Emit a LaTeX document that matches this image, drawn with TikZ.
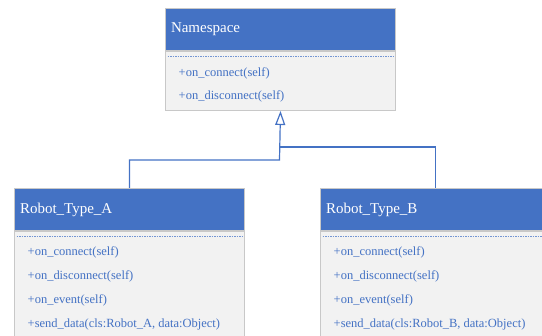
\documentclass[tikz,border=0pt]{standalone}
\usepackage{fontspec}
\setmainfont{Liberation Serif}
\newfontfamily\umlfont{Liberation Serif}
\usepackage{tikz}
\usetikzlibrary{positioning, arrows.meta}
\definecolor{headblue}{HTML}{4472C4}
\definecolor{bodygrey}{HTML}{F2F2F2}
\definecolor{edgegrey}{HTML}{C8C8C8}

\begin{document}
\begin{tikzpicture}[x=1pt, y=-1pt, node distance=0pt,
    class head/.style={draw=edgegrey, line width=1pt, fill=headblue, text=white, font=\umlfont\fontsize{15}{18}\selectfont, minimum width=230pt, minimum height=42pt, text width=219pt, inner xsep=5.5pt, align=left},
    class body/.style={draw=edgegrey, line width=1pt, fill=bodygrey, minimum width=230pt},
    methods/.style={text=headblue, inner sep=0pt, align=left, font=\umlfont\fontsize{12.5}{24}\selectfont},
    separator/.style={draw=headblue!75, dash pattern=on 1.5pt off 1pt, line width=0.8pt},
    inherit/.style={draw=headblue, line width=1.2pt}]
    \path[use as bounding box, clip] (0,0) rectangle (542,336);

    \node[class head, anchor=north west] (namespace head) at (165,8) {Namespace};
    \node[class body, minimum height=59pt, below=of namespace head] (namespace body) {};
    \node[methods, font=\umlfont\fontsize{12.5}{23}\selectfont, below right=16.5pt and 13.5pt of namespace body.north west] (namespace methods) {+on\_connect(self)\\+on\_disconnect(self)};

    \node[class head, anchor=north west] (type a head) at (14,188) {Robot\_Type\_A};
    \node[class body, minimum height=120pt, below=of type a head] (type a body) {};
    \node[methods, below right=15.5pt and 13.5pt of type a body.north west] (type a methods) {+on\_connect(self)\\+on\_disconnect(self)\\+on\_event(self)\\+send\_data(cls:Robot\_A, data:Object)};

    \node[class head, anchor=north west] (type b head) at (320,188) {Robot\_Type\_B};
    \node[class body, minimum height=120pt, below=of type b head] (type b body) {};
    \node[methods, below right=15.5pt and 13.5pt of type b body.north west] (type b methods) {+on\_connect(self)\\+on\_disconnect(self)\\+on\_event(self)\\+send\_data(cls:Robot\_B, data:Object)};

    % dashed separators under the titles
    \draw[separator] ([xshift=2.5pt, yshift=-5.5pt]namespace head.south west) -- ([xshift=-2.5pt, yshift=-5.5pt]namespace head.south east);
    \draw[separator] ([xshift=2.5pt, yshift=-5.5pt]type a head.south west) -- ([xshift=-2.5pt, yshift=-5.5pt]type a head.south east);
    \draw[separator] ([xshift=2.5pt, yshift=-5.5pt]type b head.south west) -- ([xshift=-2.5pt, yshift=-5.5pt]type b head.south east);

    % inheritance
    \coordinate (join a) at (279.5,160);
    \coordinate (join b) at (279.5,147);
    \draw[inherit, -{Triangle[open, length=14pt, width=10pt]}] (type a head.north) |- (join a) -- (namespace body.south);
    \draw[inherit] (type b head.north) |- (join b);
\end{tikzpicture}
\end{document}
